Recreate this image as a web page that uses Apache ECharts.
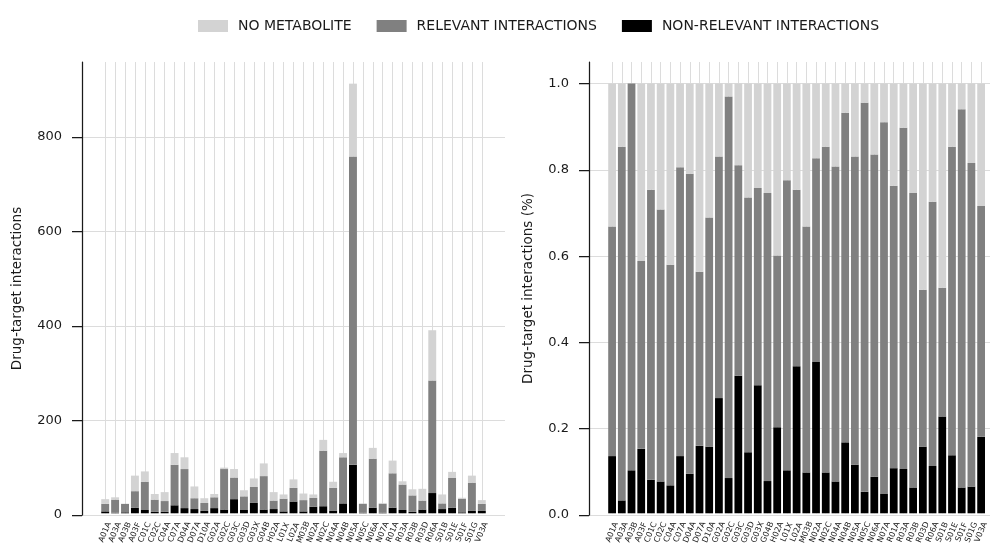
<!DOCTYPE html>
<html>
<head>
<meta charset="utf-8">
<script src="https://cdn.jsdelivr.net/npm/echarts@6/dist/echarts.min.js"></script>
<style>
  html, body { margin: 0; padding: 0; background: #fff; }
  #chart { width: 990px; height: 547px; }
</style>
</head>
<body>
<div id="chart"></div>
<script>
// ATC classes shown along both x axes
const categories = [
  'A01A', 'A03A', 'A03B', 'A03F', 'C01C', 'C02C', 'C04A', 'C07A', 'D04A', 'D07A',
  'D10A', 'G02A', 'G02C', 'G03C', 'G03D', 'G03X', 'G04B', 'H02A', 'L01X', 'L02A',
  'M03B', 'N02A', 'N02C', 'N04A', 'N04B', 'N05A', 'N05C', 'N06A', 'N07A', 'R01A',
  'R03A', 'R03B', 'R03D', 'R06A', 'S01B', 'S01E', 'S01F', 'S01G', 'V03A'
];

// Left panel: interaction counts per class (stack segments, bottom to top)
const nonRelevantCount = [
  4, 1, 2, 12, 7, 3, 3, 17, 11, 9,
  5, 11, 8, 30, 7, 22, 8, 9, 4, 25,
  4, 14, 15, 5, 21, 103, 1, 12, 1, 12,
  7, 3, 8, 43, 9, 12, 2, 5, 5
];
const relevantCount = [
  16, 28, 18, 35, 60, 26, 23, 86, 83, 23,
  17, 23, 86, 46, 29, 34, 71, 18, 27, 29,
  24, 19, 118, 49, 98, 655, 19, 104, 19, 73,
  54, 35, 19, 239, 12, 63, 29, 60, 15
];
const noMetaboliteCount = [
  10, 5, 0, 33, 22, 12, 19, 25, 25, 25,
  10, 7, 3, 18, 13, 18, 27, 18, 9, 18,
  14, 7, 23, 13, 9, 155, 1, 23, 2, 27,
  7, 13, 25, 107, 19, 13, 2, 15, 8
];

// Right panel: share of each segment per class
const nonRelevantShare = [
  0.133, 0.030, 0.100, 0.150, 0.078, 0.074, 0.065, 0.133, 0.092, 0.157,
  0.155, 0.268, 0.082, 0.320, 0.142, 0.298, 0.075, 0.200, 0.100, 0.342,
  0.095, 0.352, 0.095, 0.074, 0.165, 0.113, 0.050, 0.085, 0.045, 0.105,
  0.103, 0.060, 0.155, 0.110, 0.225, 0.135, 0.060, 0.062, 0.178
];
const relevantShare = [
  0.534, 0.823, 0.900, 0.437, 0.675, 0.633, 0.513, 0.672, 0.698, 0.405,
  0.533, 0.562, 0.888, 0.490, 0.593, 0.459, 0.670, 0.400, 0.675, 0.411,
  0.572, 0.474, 0.758, 0.733, 0.767, 0.717, 0.905, 0.750, 0.865, 0.657,
  0.794, 0.685, 0.365, 0.615, 0.300, 0.718, 0.880, 0.753, 0.537
];
const noMetaboliteShare = [
  0.333, 0.147, 0.000, 0.413, 0.247, 0.293, 0.422, 0.195, 0.210, 0.438,
  0.312, 0.170, 0.030, 0.190, 0.265, 0.243, 0.255, 0.400, 0.225, 0.247,
  0.333, 0.174, 0.147, 0.193, 0.068, 0.170, 0.045, 0.165, 0.090, 0.238,
  0.103, 0.255, 0.480, 0.275, 0.475, 0.147, 0.060, 0.185, 0.285
];

const countTicks = [0, 200, 400, 600, 800];
const shareTicks = [0, 0.2, 0.4, 0.6, 0.8, 1.0];

const legendNames = ['NO METABOLITE', 'RELEVANT INTERACTIONS', 'NON-RELEVANT INTERACTIONS'];
const colors = { noMet: '#d3d3d3', relevant: '#808080', nonRelevant: '#000000' };

const FONT = 'DejaVu Sans';
const INK = '#1a1a1a';
const GRID_LINE = '#dcdcdc';

// Frame grids hold the spines/horizontal grid, band grids hold the bars
// (the band grid is inset so bars get the usual side margins).
const frameWidth = 423, frameTop = 62, frameHeight = 453;
const unit = frameWidth / 42.68;
const bandInset = (2.34 - 0.5) * unit;
const bandWidth = categories.length * unit;

function frameYAxis(gridIndex, max, ticks, fmt, name, nameGap) {
  return {
    type: 'value', gridIndex, min: 0, max,
    axisLine: { show: true, lineStyle: { color: INK, width: 1.25 } },
    axisTick: { show: true, inside: false, length: 10, customValues: ticks,
                lineStyle: { color: INK, width: 1.25 } },
    axisLabel: { customValues: ticks, margin: 20, fontSize: 13,
                 fontFamily: FONT, color: INK, formatter: fmt },
    splitLine: { show: true,
                 lineStyle: { color: [GRID_LINE, GRID_LINE, GRID_LINE, GRID_LINE, GRID_LINE, GRID_LINE, 'rgba(0,0,0,0)'], width: 1 } },
    name, nameLocation: 'middle', nameGap, nameRotate: 90,
    nameTextStyle: { fontSize: 13.5, fontFamily: FONT, color: INK }
  };
}

function bandXAxis(gridIndex) {
  return {
    type: 'category', gridIndex, data: categories, boundaryGap: true,
    axisLine: { show: false }, axisTick: { show: false },
    axisLabel: { interval: 0, rotate: 67, fontSize: 8, fontFamily: FONT, color: INK,
                 align: 'center', verticalAlign: 'middle', margin: 19 },
    splitLine: { show: true, interval: 0, alignWithLabel: true,
                 lineStyle: { color: GRID_LINE, width: 1 } }
  };
}

function stackSeries(xIdx, yIdx, stack, a, b, c) {
  const base = { type: 'bar', xAxisIndex: xIdx, yAxisIndex: yIdx, stack,
                 barWidth: '80%', barCategoryGap: '20%' };
  return [
    Object.assign({ name: legendNames[2], data: a, itemStyle: { color: colors.nonRelevant } }, base),
    Object.assign({ name: legendNames[1], data: b, itemStyle: { color: colors.relevant } }, base),
    Object.assign({ name: legendNames[0], data: c, itemStyle: { color: colors.noMet } }, base)
  ];
}

const chart = echarts.init(document.getElementById('chart'), null, { renderer: 'canvas' });
chart.setOption({
  animation: false,
  legend: {
    data: legendNames, left: 193, top: 14, itemWidth: 30, itemHeight: 12, itemGap: 25,
    icon: 'rect', selectedMode: false,
    textStyle: { fontSize: 14, fontFamily: FONT, color: INK, padding: [0, 0, 0, 5] }
  },
  grid: [
    { left: 82, top: frameTop, width: frameWidth, height: frameHeight },
    { left: 82 + bandInset, top: frameTop, width: bandWidth, height: frameHeight },
    { left: 589, top: frameTop, width: frameWidth, height: frameHeight },
    { left: 589 + bandInset, top: frameTop, width: bandWidth, height: frameHeight }
  ],
  xAxis: [
    { type: 'value', gridIndex: 0, min: 0, max: 1, show: false },
    bandXAxis(1),
    { type: 'value', gridIndex: 2, min: 0, max: 1, show: false },
    bandXAxis(3)
  ],
  yAxis: [
    frameYAxis(0, 959, countTicks, v => String(v), 'Drug-target interactions', 58),
    { type: 'value', gridIndex: 1, min: 0, max: 959, show: false },
    frameYAxis(2, 1.05, shareTicks, v => Number(v).toFixed(1), 'Drug-target interactions (%)', 54),
    { type: 'value', gridIndex: 3, min: 0, max: 1.05, show: false }
  ],
  series: [
    ...stackSeries(1, 1, 'counts', nonRelevantCount, relevantCount, noMetaboliteCount),
    ...stackSeries(3, 3, 'shares', nonRelevantShare, relevantShare, noMetaboliteShare)
  ]
});
</script>
</body>
</html>
